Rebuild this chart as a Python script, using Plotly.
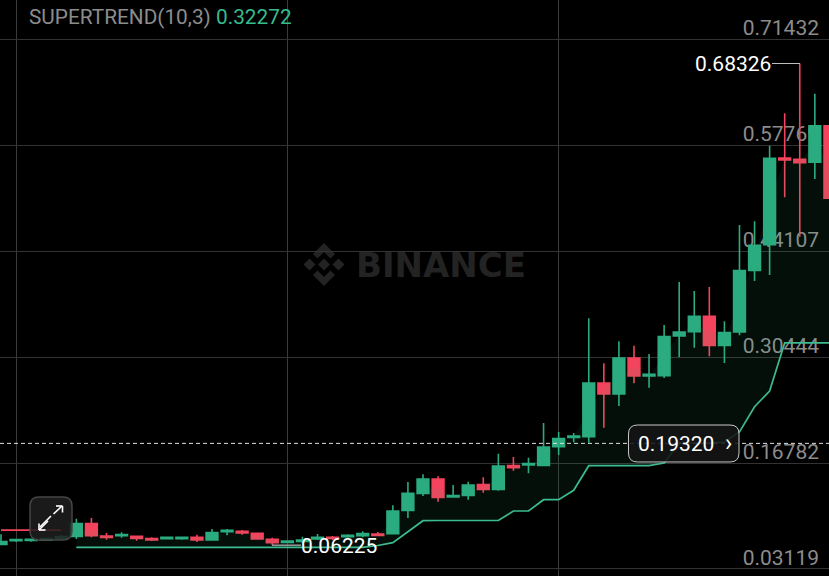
import plotly.graph_objects as go

W, H = 829, 576

# candle index, OHLC
opens = [.06295,.06768,.06811,.06854,.07026,.07327,.08961,.07370,.07413,.07327,.07026,.07026,.07026,.07198,.06854,.07929,.07972,.07714,.06940,.06553,
         .06682,.06983,.07198,.07284,.07413,.07628,.07671,.10681,.12874,.14723,.12401,.12616,.13992,.13390,.16443,.16529,.16486,.18894,.20098,.20184,
         .27107,.25688,.30332,.28010,.28053,.33170,.33729,.35707,.31966,.33686,.41641,.44952,.56132,.55964,.55578,.60299]
closes = [.06639,.06897,.06940,.07026,.07284,.08961,.07413,.07198,.07542,.07069,.06854,.07198,.07198,.06854,.07800,.08101,.07757,.06983,.06510,.06725,
          .06854,.07198,.07069,.07456,.07671,.07456,.10595,.12874,.14723,.12358,.12573,.13949,.13390,.16400,.16185,.16701,.18851,.19926,.20270,.27107,
          .25688,.30332,.28010,.28225,.33084,.33686,.35707,.31966,.33600,.41598,.44866,.56093,.55874,.55526,.60299,.50933]
highs = [.07585,.06983,.07026,.07112,.07499,.09606,.09692,.07757,.07843,.07413,.07198,.07241,.07284,.07542,.08273,.08273,.08144,.07757,.07155,.06811,
         .07284,.07628,.07370,.07585,.07972,.07886,.11326,.14336,.15325,.15067,.13949,.14379,.14938,.17991,.17561,.17475,.21947,.20786,.20657,.35449,
         .29644,.32482,.31923,.30848,.34589,.40136,.38975,.39491,.35062,.47489,.47985,.57719,.61898,.68326,.64427,.62320]
lows = [.06209,.06596,.06639,.06768,.06854,.06983,.07198,.06897,.07155,.06768,.06725,.06940,.06897,.06596,.06768,.07456,.07542,.06940,.06225,.06424,
        .06424,.06854,.06854,.07155,.07198,.07370,.07585,.09692,.12530,.11799,.12358,.12057,.12960,.13218,.15798,.15454,.16443,.17819,.19453,.19410,
        .21345,.24140,.27064,.26505,.27752,.30461,.31665,.30547,.29687,.33256,.40265,.41039,.51062,.45979,.53423,.50933]
supertrend_down = [.0814] * 5
supertrend_up = [.05912] * 20 + [.06144,.06506,.07925,.09344,.09369,.09369,.09369,.09369,.09369,.10595,.10595,.12053,.12053,.13265,
                                 .16438,.16438,.16438,.16438,.16438,.16787,.19367,.19367,.19367,.19496,.20786,.24050,.26075,.32272,.32272,.32272,.32272]
tick_values = [.71432, .57769, .44107, .30444, .16782, .03119]
tick_labels = ["0.71432", "0.57769", "0.44107", "0.30444", "0.16782", "0.03119"]
grid_candles = [1, 19, 37]
last_price = 0.19320
high_price = 0.68326
low_price = 0.06225

idx = list(range(len(opens)))
up_idx = idx[5:]
mid = [(o + c) / 2 for o, c in zip(opens[5:], closes[5:])]

GREEN = "#2BAB80"
RED = "#F4435C"
LINE = "#3CBB90"
GRAY = "#8C8C8C"
FONT = "Roboto"

fig = go.Figure()
fig.add_trace(go.Candlestick(x=idx, open=opens, high=highs, low=lows, close=closes,
    increasing=dict(line=dict(color=GREEN, width=1.6), fillcolor=GREEN),
    decreasing=dict(line=dict(color=RED, width=1.6), fillcolor=RED),
    whiskerwidth=0, showlegend=False, hoverinfo="skip"))
fig.add_trace(go.Scatter(x=up_idx, y=mid, mode="lines", line=dict(width=0), showlegend=False, hoverinfo="skip"))
fig.add_trace(go.Scatter(x=up_idx, y=supertrend_up, mode="lines", line=dict(color=LINE, width=1.7),
    fill="tonexty", fillcolor="rgba(46,189,133,0.08)", showlegend=False, hoverinfo="skip"))
fig.add_trace(go.Scatter(x=idx[:5], y=supertrend_down, mode="lines", line=dict(color=RED, width=1.7),
    showlegend=False, hoverinfo="skip"))

sx = lambda px: px / W
sy = lambda py: 1 - py / H

def paper_line(x0, y0, x1, y1, color, width):
    return dict(type="line", xref="paper", yref="paper", x0=sx(x0), y0=sy(y0), x1=sx(x1), y1=sy(y1),
                line=dict(color=color, width=width), layer="above")

def rounded(x0, y0, x1, y1, r):
    p = lambda x, y: f"{sx(x):.5f},{sy(y):.5f}"
    return (f"M{p(x0+r,y0)} L{p(x1-r,y0)} Q{p(x1,y0)} {p(x1,y0+r)} L{p(x1,y1-r)} Q{p(x1,y1)} {p(x1-r,y1)} "
            f"L{p(x0+r,y1)} Q{p(x0,y1)} {p(x0,y1-r)} L{p(x0,y0+r)} Q{p(x0,y0)} {p(x0+r,y0)} Z")

def poly(points):
    return "M" + " L".join(f"{sx(x):.5f},{sy(y):.5f}" for x, y in points) + " Z"

shapes = [
    dict(type="line", xref="paper", yref="y", x0=0, x1=1, y0=last_price, y1=last_price,
         line=dict(color="#E0E0E0", width=1, dash="4px,3px"), layer="above"),
    dict(type="path", xref="paper", yref="paper", path=rounded(628.5, 425, 739, 462, 9),
         fillcolor="rgba(20,20,20,0.88)", line=dict(color="#C8C8C8", width=1), layer="above"),
    dict(type="path", xref="paper", yref="paper", path=rounded(30, 497, 72, 540, 9),
         fillcolor="rgba(30,30,30,0.85)", line=dict(color="#454545", width=1.5), layer="above"),
    paper_line(772, 63.5, 800, 63.5, "#BDBDBD", 1),
    paper_line(272, 545.2, 301, 545.2, "#9A9A9A", 1.5),
    paper_line(40, 527, 51, 516, "#FFFFFF", 1.6),
    paper_line(53.5, 514, 62, 506, "#FFFFFF", 1.6),
    paper_line(56, 506, 62.5, 506, "#FFFFFF", 1.6),
    paper_line(62.5, 506, 62.5, 512.5, "#FFFFFF", 1.6),
    paper_line(39, 530, 48, 521, "#FFFFFF", 1.6),
    paper_line(39, 530, 39, 523.5, "#FFFFFF", 1.6),
    paper_line(39, 530, 45.5, 530, "#FFFFFF", 1.6),
]
LOGO = "#232323"
shapes += [
    dict(type="path", xref="paper", yref="paper", path=poly(pts), fillcolor=LOGO, line=dict(width=0), layer="below")
    for pts in [
        [(324, 243), (335, 254), (330.5, 258.5), (324, 252), (317.5, 258.5), (313, 254)],
        [(324, 286), (335, 275), (330.5, 270.5), (324, 277), (317.5, 270.5), (313, 275)],
        [(324, 258.5), (330, 264.5), (324, 270.5), (318, 264.5)],
        [(309.5, 258.5), (315.5, 264.5), (309.5, 270.5), (303.5, 264.5)],
        [(338.5, 258.5), (344.5, 264.5), (338.5, 270.5), (332.5, 264.5)],
    ]
]

def text(x, y, s, color, size, anchor="left", weight=None, family=FONT):
    return dict(xref="paper", yref="paper", x=sx(x), y=sy(y), text=s, showarrow=False, xanchor=anchor,
                yanchor="middle", align=anchor, borderpad=0,
                font=dict(color=color, size=size, family=family, weight=weight))

annotations = [
    text(28, 17, f'SUPERTREND(10,3) <span style="color:#37BB8E">0.32272</span>', GRAY, 20.8),
    text(772, 64, f"{high_price:.5f}", "#FFFFFF", 21, "right"),
    text(300, 546, f"{low_price:.5f}", "#FFFFFF", 21),
    text(637, 444, f"{last_price:.5f}", "#FFFFFF", 21),
    text(724, 443, "›", "#FFFFFF", 24),
    text(355, 264.5, "BINANCE", LOGO, 34, weight=700, family="DejaVu Sans"),
]

fig.update_layout(
    width=W, height=H, autosize=False, margin=dict(l=0, r=0, t=0, b=0),
    paper_bgcolor="#000000", plot_bgcolor="#000000", boxgap=0.22, boxgroupgap=0, showlegend=False,
    shapes=shapes, annotations=annotations, hovermode=False,
    xaxis=dict(range=[-0.0664, 54.94], tickmode="array", tickvals=grid_candles, showticklabels=False,
               gridcolor="#3A3A3A", gridwidth=1, zeroline=False, rangeslider=dict(visible=False), ticks=""),
    yaxis=dict(range=[0.0221, 0.76514], side="right", tickmode="array", tickvals=tick_values, ticktext=tick_labels,
               gridcolor="#333333", gridwidth=1, zeroline=False, layer="below traces",
               ticklabelposition="inside top", ticklabelstandoff=7, ticklabelshift=3,
               tickfont=dict(color=GRAY, size=21, family=FONT)),
)

fig.write_html("out.html", config=dict(displayModeBar=False, staticPlot=True),
               post_script="document.body.style.margin='0';document.body.style.background='#000';")
